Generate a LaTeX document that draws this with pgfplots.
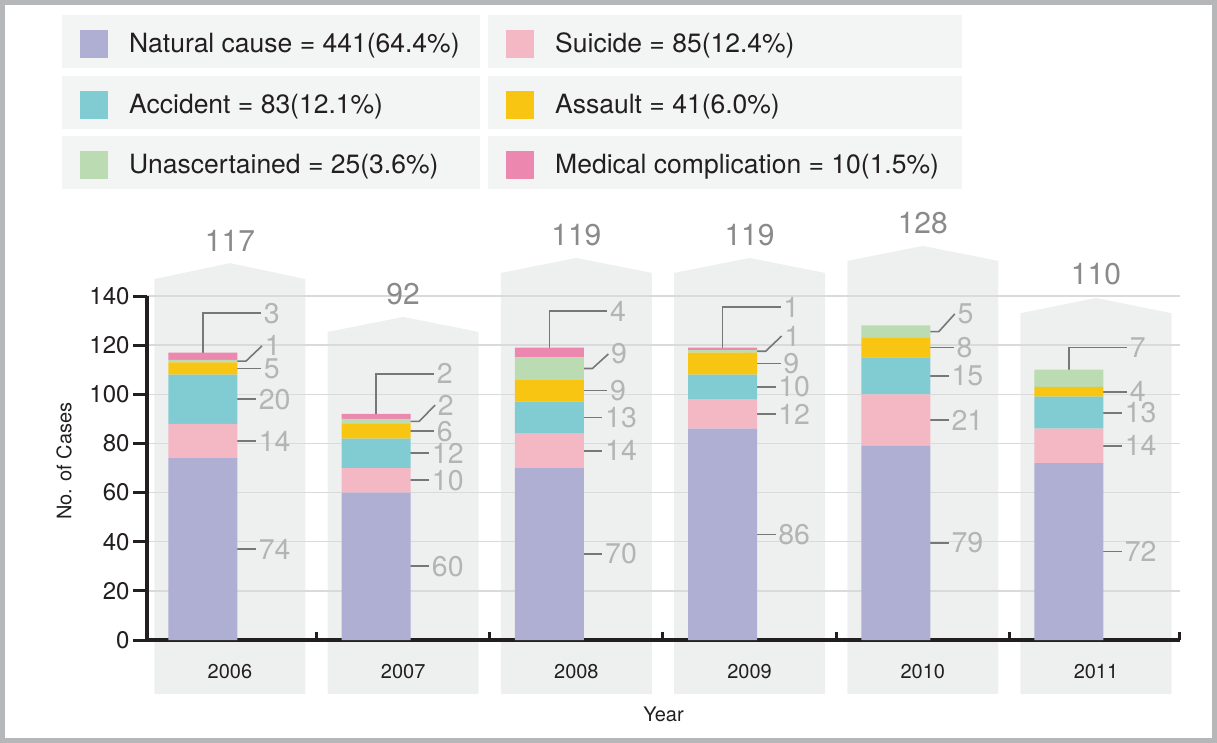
\documentclass[border=0pt]{standalone}
\usepackage{fontspec}
\setmainfont{TeX Gyre Heros}
\usepackage{pgfplots}
\usepackage{pgfplotstable}
\pgfplotsset{compat=1.18}

\definecolor{natc}{HTML}{AFAFD4}
\definecolor{suic}{HTML}{F4B8C4}
\definecolor{accc}{HTML}{80CCD2}
\definecolor{assc}{HTML}{F9C513}
\definecolor{unac}{HTML}{BBDCB3}
\definecolor{medc}{HTML}{EC87B0}
\definecolor{bgc}{HTML}{EEF0EF}
\definecolor{legbg}{HTML}{F3F5F4}
\definecolor{gridc}{HTML}{DADADA}
\definecolor{axc}{HTML}{231F20}
\definecolor{leadc}{HTML}{777777}
\definecolor{lblc}{HTML}{B4B4B4}
\definecolor{totc}{HTML}{8A8A8A}
\definecolor{framec}{HTML}{B5B7B9}

% cases per year, stacked bottom to top
\pgfplotstableread{
x natural suicide accident assault unasc medical total
0 74 14 20 5 1 3 117
1 60 10 12 6 2 2 92
2 70 14 13 9 9 4 119
3 86 12 10 9 1 1 119
4 79 21 15 8 5 0 128
5 72 14 13 4 7 0 110
}\cases

\tikzset{
  leader/.style={draw=leadc, line width=1.6pt},
  lbl/.style={font=\fontsize{28.5}{30}\selectfont, text=lblc, inner sep=0pt, xshift=2pt, anchor=west},
}
% straight leader: cat, y, end, text
\newcommand\segA[4]{\draw[leader] ([xshift=-6pt]axis cs:#1,#2) -- ([xshift=#3]axis cs:#1,#2) node[lbl] {#4};}
% kinked leader: cat, y, label y, text
\newcommand\segB[4]{\draw[leader] ([xshift=-6pt]axis cs:#1,#2) -- ([xshift=16pt]axis cs:#1,#2) -- ([xshift=32pt]axis cs:#1,#3) node[lbl] {#4};}
% leader over the top: cat, y, label y, text
\newcommand\segC[4]{\draw[leader] ([xshift=-27pt]axis cs:#1,#2) -- ([xshift=-27pt]axis cs:#1,#3) -- ([xshift=31pt]axis cs:#1,#3) node[lbl] {#4};}
\newcommand\legitem[5]{%
  \fill[legbg] (#1pt,-#2pt) rectangle ++(#3pt,-53pt);
  \fill[#4] ([xshift=18pt,yshift=-15pt]#1pt,-#2pt) rectangle ++(28pt,-28pt);
  \node[anchor=west, inner sep=0pt, font=\fontsize{26.5}{30}\selectfont, text=axc] at ([xshift=67pt,yshift=-30.5pt]#1pt,-#2pt) {#5};}

\pgfplotsset{
  frame geom/.style={
    at={(147pt,-640pt)}, anchor=south west,
    scale only axis, width=1033pt, height=344pt,
    xmin=-0.479, xmax=5.485, ymin=0, ymax=140, clip=false,
  },
}

\begin{document}
\begin{tikzpicture}
\path[use as bounding box] (0,0) rectangle (1217pt,-743pt);
\draw[framec, line width=5pt] (2.5pt,-2.5pt) rectangle (1214.5pt,-740.5pt);

\legitem{62}{15}{418}{natc}{Natural cause = 441(64.4\%)}
\legitem{488}{15}{474}{suic}{Suicide = 85(12.4\%)}
\legitem{62}{76}{418}{accc}{Accident = 83(12.1\%)}
\legitem{488}{76}{474}{assc}{Assault = 41(6.0\%)}
\legitem{62}{136}{418}{unac}{Unascertained = 25(3.6\%)}
\legitem{488}{136}{474}{medc}{Medical complication = 10(1.5\%)}

% grey arrow-shaped panels behind each year
\begin{axis}[frame geom, hide axis]
\addplot[fill=bgc, draw=none] coordinates {(-0.436,-22) (-0.436,146.9) (0,153.4) (0.436,146.9) (0.436,-22)} -- cycle;
\addplot[fill=bgc, draw=none] coordinates {(0.564,-22) (0.564,125.4) (1,131.5) (1.436,125.4) (1.436,-22)} -- cycle;
\addplot[fill=bgc, draw=none] coordinates {(1.564,-22) (1.564,149.4) (2,155.5) (2.436,149.4) (2.436,-22)} -- cycle;
\addplot[fill=bgc, draw=none] coordinates {(2.564,-22) (2.564,149.4) (3,155.5) (3.436,149.4) (3.436,-22)} -- cycle;
\addplot[fill=bgc, draw=none] coordinates {(3.564,-22) (3.564,154.3) (4,160.4) (4.436,154.3) (4.436,-22)} -- cycle;
\addplot[fill=bgc, draw=none] coordinates {(4.564,-22) (4.564,133.0) (5,139.2) (5.436,133.0) (5.436,-22)} -- cycle;
\end{axis}

\begin{axis}[
  frame geom,
  ybar stacked, bar width=69pt,
  every axis plot post/.append style={/pgf/bar shift=-27pt},
  xtick={0,1,2,3,4,5},
  xticklabels={2006,2007,2008,2009,2010,2011},
  ytick={0,20,...,140},
  axis lines=left,
  axis line style={-, line width=3.5pt, axc},
  tick align=outside, major tick length=14pt,
  x tick style={draw=none},
  y tick style={line width=3pt, axc},
  ymajorgrids, major grid style={line width=1.5pt, gridc},
  /pgf/number format/assume math mode=true,
  yticklabel style={font=\fontsize{24}{28}\selectfont, text=axc},
  xticklabel style={font=\fontsize{20}{24}\selectfont, text=axc, yshift=-7pt},
  xlabel={Year}, ylabel={No. of Cases},
  every axis x label/.style={at={(axis description cs:0.5,-0.215)}, anchor=center,
    font=\fontsize{20}{24}\selectfont, text=axc},
  every axis y label/.style={at={(axis description cs:-0.0803,0.52)}, anchor=center,
    rotate=90, font=\fontsize{20}{24}\selectfont, text=axc},
]
\addplot[fill=natc, draw=none] table[x=x, y=natural] {\cases};
\addplot[fill=suic, draw=none] table[x=x, y=suicide] {\cases};
\addplot[fill=accc, draw=none] table[x=x, y=accident] {\cases};
\addplot[fill=assc, draw=none] table[x=x, y=assault] {\cases};
\addplot[fill=unac, draw=none] table[x=x, y=unasc] {\cases};
\addplot[fill=medc, draw=none] table[x=x, y=medical] {\cases};

% category boundary ticks
\pgfplotsinvokeforeach{0.5,1.5,2.5,3.5,4.5,5.485}{
  \draw[line width=3pt, axc] (axis cs:#1,0) -- ([yshift=8pt]axis cs:#1,0);
}

% totals
\node[font=\fontsize{30}{32}\selectfont, text=totc] at (axis cs:0,162.4) {117};
\node[font=\fontsize{30}{32}\selectfont, text=totc] at (axis cs:1,140.8) {92};
\node[font=\fontsize{30}{32}\selectfont, text=totc] at (axis cs:2,164.8) {119};
\node[font=\fontsize{30}{32}\selectfont, text=totc] at (axis cs:3,164.8) {119};
\node[font=\fontsize{30}{32}\selectfont, text=totc] at (axis cs:4,169.7) {128};
\node[font=\fontsize{30}{32}\selectfont, text=totc] at (axis cs:5,149.0) {110};

% 2006
\segA{0}{37}{26pt}{74}
\segA{0}{81}{26pt}{14}
\segA{0}{98}{26pt}{20}
\segA{0}{110.5}{31pt}{5}
\segB{0}{113.5}{119.7}{1}
\segC{0}{115.5}{133}{3}
% 2007
\segA{1}{30}{26pt}{60}
\segA{1}{65}{26pt}{10}
\segA{1}{76}{26pt}{12}
\segA{1}{85}{31pt}{6}
\segB{1}{89}{95.6}{2}
\segC{1}{91}{108.3}{2}
% 2008
\segA{2}{35}{26pt}{70}
\segA{2}{77}{26pt}{14}
\segA{2}{90.5}{26pt}{13}
\segA{2}{101.5}{31pt}{9}
\segB{2}{110.5}{116.4}{9}
\segC{2}{117}{133.9}{4}
% 2009
\segA{3}{43}{26pt}{86}
\segA{3}{92}{26pt}{12}
\segA{3}{103}{26pt}{10}
\segA{3}{112.5}{31pt}{9}
\segB{3}{117.5}{123.7}{1}
\segC{3}{118.5}{135.5}{1}
% 2010
\segA{4}{39.5}{26pt}{79}
\segA{4}{89.5}{26pt}{21}
\segA{4}{107.5}{26pt}{15}
\segA{4}{119}{31pt}{8}
\segB{4}{125.5}{132.7}{5}
% 2011
\segA{5}{36}{26pt}{72}
\segA{5}{79}{26pt}{14}
\segA{5}{92.5}{26pt}{13}
\segA{5}{101}{31pt}{4}
\segC{5}{107.5}{119}{7}
\end{axis}
\end{tikzpicture}
\end{document}
